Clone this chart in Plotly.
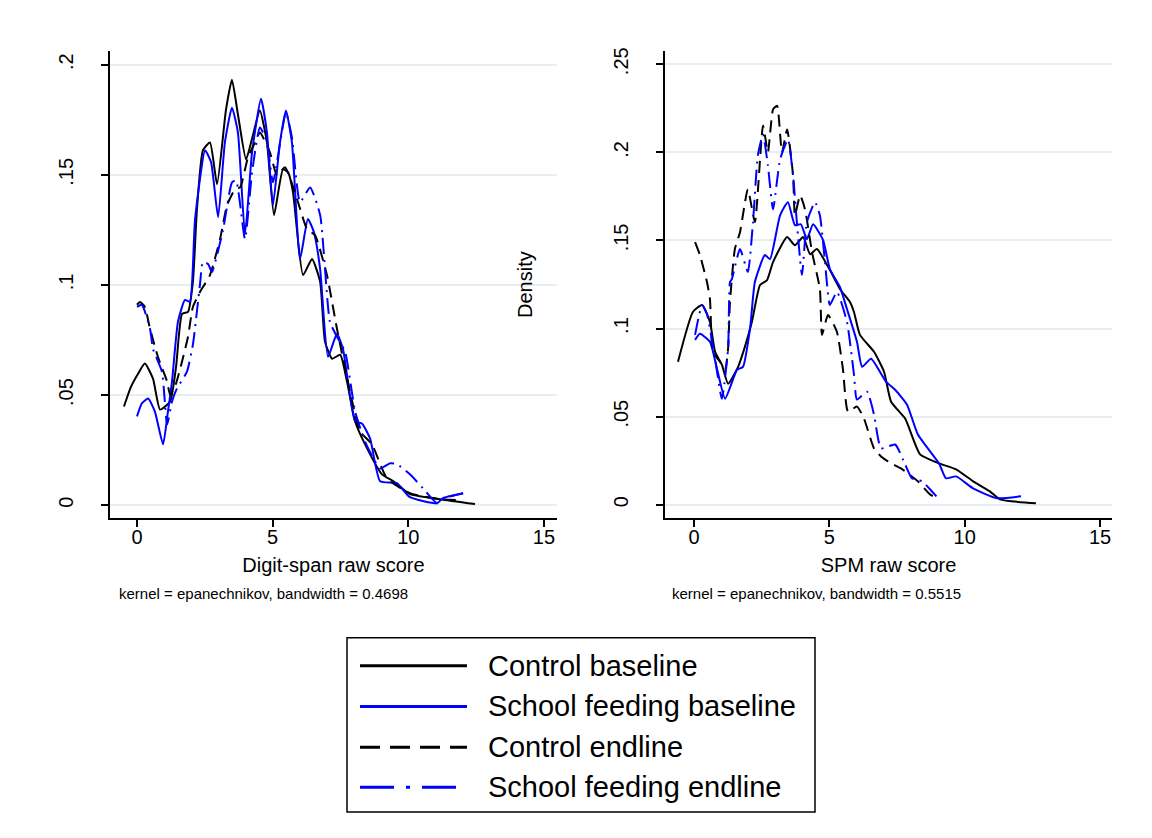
import plotly.graph_objects as go

# ---------------- data ----------------
# Left panel: Digit-span raw score densities
ds_cb_x = [-0.48, -0.22, 0.04, 0.29, 0.59, 0.85, 1.22, 1.44, 1.66, 1.88, 2.06, 2.21, 2.43, 2.69, 2.95, 3.28, 3.50, 3.72, 4.02, 4.27, 4.53, 4.79, 5.05, 5.38, 5.57, 5.75, 6.12, 6.45, 6.75, 6.93, 7.19, 7.49, 7.74, 8.04, 8.48, 9.03, 9.44, 10.06, 11.17, 12.46]
ds_cb_y = [0.0448, 0.0538, 0.0597, 0.0643, 0.0575, 0.0434, 0.0471, 0.0629, 0.0869, 0.0878, 0.1014, 0.1344, 0.1611, 0.1647, 0.1457, 0.1796, 0.1932, 0.1774, 0.1570, 0.1679, 0.1792, 0.1647, 0.1317, 0.1525, 0.1511, 0.1421, 0.1045, 0.1118, 0.1014, 0.0742, 0.0665, 0.0683, 0.0561, 0.0380, 0.0258, 0.0140, 0.0109, 0.0050, 0.0027, 0.0005]

ds_sb_x = [0.00, 0.18, 0.41, 0.66, 0.96, 1.14, 1.29, 1.51, 1.77, 1.95, 2.14, 2.51, 2.73, 2.99, 3.24, 3.50, 3.72, 3.98, 4.24, 4.57, 4.79, 5.01, 5.27, 5.49, 5.71, 6.01, 6.30, 6.52, 6.75, 7.04, 7.37, 7.59, 8.04, 8.29, 8.59, 8.96, 9.58, 10.06, 11.06, 11.28, 12.02]
ds_sb_y = [0.0403, 0.0462, 0.0484, 0.0425, 0.0276, 0.0425, 0.0561, 0.0833, 0.0932, 0.0923, 0.1299, 0.1611, 0.1557, 0.1308, 0.1647, 0.1805, 0.1692, 0.1231, 0.1602, 0.1846, 0.1692, 0.1362, 0.1647, 0.1792, 0.1647, 0.1118, 0.1299, 0.1240, 0.1072, 0.0674, 0.0778, 0.0710, 0.0380, 0.0371, 0.0303, 0.0109, 0.0100, 0.0036, 0.0009, 0.0032, 0.0054]

ds_ce_x = [0.00, 0.11, 0.29, 0.48, 0.77, 1.11, 1.22, 1.40, 1.66, 1.88, 2.06, 2.32, 2.69, 3.06, 3.32, 3.61, 3.80, 4.09, 4.35, 4.53, 4.90, 5.16, 5.46, 5.90, 6.27, 6.56, 7.00, 7.37, 7.85, 8.22, 8.66, 9.21, 10.06, 11.17, 11.91]
ds_ce_y = [0.0910, 0.0923, 0.0900, 0.0801, 0.0674, 0.0561, 0.0502, 0.0538, 0.0652, 0.0765, 0.0900, 0.0968, 0.1045, 0.1208, 0.1362, 0.1434, 0.1443, 0.1579, 0.1647, 0.1692, 0.1602, 0.1498, 0.1534, 0.1389, 0.1253, 0.1226, 0.1045, 0.0801, 0.0516, 0.0335, 0.0276, 0.0122, 0.0054, 0.0027, 0.0023]

ds_se_x = [0.00, 0.18, 0.48, 0.59, 0.92, 1.11, 1.29, 1.47, 1.84, 2.06, 2.32, 2.43, 2.62, 2.76, 3.17, 3.50, 3.65, 3.98, 4.24, 4.53, 4.79, 5.01, 5.49, 5.71, 6.01, 6.38, 6.75, 7.11, 7.37, 7.67, 8.04, 8.40, 8.96, 9.33, 9.58, 10.06, 10.54, 11.06, 11.35, 12.02]
ds_se_y = [0.0900, 0.0910, 0.0801, 0.0710, 0.0606, 0.0367, 0.0471, 0.0529, 0.0606, 0.0729, 0.1000, 0.1104, 0.1095, 0.1059, 0.1249, 0.1466, 0.1475, 0.1208, 0.1511, 0.1715, 0.1650, 0.1466, 0.1783, 0.1670, 0.1376, 0.1443, 0.1317, 0.0833, 0.0765, 0.0697, 0.0425, 0.0290, 0.0167, 0.0190, 0.0186, 0.0140, 0.0077, 0.0009, 0.0032, 0.0054]

# Right panel: SPM raw score densities
spm_cb_x = [-0.59, -0.04, 0.30, 0.59, 0.78, 1.03, 1.26, 1.63, 1.88, 2.14, 2.44, 2.70, 2.92, 3.44, 3.73, 4.03, 4.29, 4.54, 5.02, 5.39, 5.76, 5.91, 6.13, 6.65, 7.02, 7.28, 7.80, 8.35, 9.05, 9.68, 10.31, 10.93, 11.30, 12.63]
spm_cb_y = [0.0812, 0.1094, 0.1134, 0.1038, 0.0868, 0.0795, 0.0687, 0.0783, 0.0896, 0.1038, 0.1247, 0.1275, 0.1377, 0.1519, 0.1473, 0.1519, 0.1422, 0.1451, 0.1332, 0.1225, 0.1151, 0.1094, 0.0964, 0.0868, 0.0755, 0.0585, 0.0489, 0.0286, 0.0235, 0.0201, 0.0133, 0.0076, 0.0031, 0.0008]

spm_sb_x = [0.04, 0.22, 0.59, 0.85, 1.15, 1.59, 1.81, 2.07, 2.25, 2.62, 2.81, 3.18, 3.47, 3.73, 3.95, 4.17, 4.40, 4.77, 5.02, 5.39, 5.65, 6.02, 6.21, 6.54, 7.09, 7.43, 7.87, 8.27, 9.05, 9.31, 9.68, 10.31, 11.19, 12.08]
spm_sb_y = [0.0936, 0.0970, 0.0925, 0.0772, 0.0602, 0.0766, 0.0783, 0.0998, 0.1264, 0.1417, 0.1394, 0.1643, 0.1717, 0.1587, 0.1592, 0.1507, 0.1592, 0.1502, 0.1338, 0.1236, 0.1111, 0.0925, 0.0783, 0.0829, 0.0699, 0.0653, 0.0568, 0.0399, 0.0235, 0.0150, 0.0161, 0.0093, 0.0037, 0.0048]

spm_ce_x = [0.04, 0.22, 0.48, 0.59, 0.70, 0.96, 1.15, 1.26, 1.33, 1.51, 1.70, 1.99, 2.25, 2.55, 2.73, 2.92, 3.07, 3.25, 3.44, 3.66, 3.73, 3.92, 4.10, 4.36, 4.65, 4.73, 4.95, 5.28, 5.50, 5.69, 6.02, 6.28, 6.65, 6.91, 7.28, 7.65, 8.27, 8.72, 9.05]
spm_ce_y = [0.1490, 0.1417, 0.1264, 0.1168, 0.0868, 0.0812, 0.0766, 0.0885, 0.1151, 0.1451, 0.1547, 0.1790, 0.1604, 0.2152, 0.2000, 0.2243, 0.2265, 0.2000, 0.2130, 0.1869, 0.1643, 0.1756, 0.1677, 0.1434, 0.1225, 0.0964, 0.1077, 0.0981, 0.0772, 0.0529, 0.0557, 0.0489, 0.0320, 0.0274, 0.0235, 0.0206, 0.0133, 0.0059, 0.0031]

spm_se_x = [0.04, 0.30, 0.48, 0.74, 1.03, 1.26, 1.33, 1.40, 1.70, 1.99, 2.18, 2.36, 2.55, 2.73, 2.92, 3.18, 3.47, 3.66, 3.80, 3.99, 4.17, 4.47, 4.65, 4.84, 5.02, 5.28, 5.65, 5.91, 6.02, 6.39, 6.65, 6.91, 7.43, 7.80, 8.05, 8.42, 8.72, 9.05]
spm_se_y = [0.0964, 0.1134, 0.1083, 0.0868, 0.0602, 0.0885, 0.1264, 0.1281, 0.1451, 0.1321, 0.1604, 0.1983, 0.2101, 0.1926, 0.1677, 0.1960, 0.2073, 0.1869, 0.1604, 0.1304, 0.1604, 0.1717, 0.1643, 0.1377, 0.1134, 0.1208, 0.1038, 0.0738, 0.0597, 0.0642, 0.0512, 0.0320, 0.0342, 0.0229, 0.0150, 0.0133, 0.0088, 0.0031]

series_names = ["Control baseline", "School feeding baseline", "Control endline", "School feeding endline"]
x_ticks = [0, 5, 10, 15]
y_ticks_left = [0, 0.05, 0.1, 0.15, 0.2]
y_text_left = ["0", ".05", ".1", ".15", ".2"]
y_ticks_right = [0, 0.05, 0.1, 0.15, 0.2, 0.25]
y_text_right = ["0", ".05", ".1", ".15", ".2", ".25"]
x_title_left = "Digit-span raw score"
x_title_right = "SPM raw score"
note_left = "kernel = epanechnikov, bandwidth = 0.4698"
note_right = "kernel = epanechnikov, bandwidth = 0.5515"
y_title = "Density"

# ---------------- styles / geometry ----------------
# The page body adds an 8px offset; the figure is sized so that screen
# coordinates of the reference map onto it.
OFF = 8
W, H = 1152 - OFF, 838 - OFF
FONT = "Liberation Sans, Arial, Helvetica, sans-serif"
BLUE = "#0000ff"
styles = [
    dict(color="black", dash="solid"),
    dict(color=BLUE, dash="solid"),
    dict(color="black", dash="12px,7px"),
    dict(color=BLUE, dash="16px,6px,2px,6px"),
]
legend_dash = ["solid", "solid", "20px,10px", "34px,12px,4px,12px"]

left_data = [(ds_cb_x, ds_cb_y), (ds_sb_x, ds_sb_y), (ds_ce_x, ds_ce_y), (ds_se_x, ds_se_y)]
right_data = [(spm_cb_x, spm_cb_y), (spm_sb_x, spm_sb_y), (spm_ce_x, spm_ce_y), (spm_se_x, spm_se_y)]

fig = go.Figure()
for (xs, ys), st, nm in zip(left_data, styles, series_names):
    fig.add_trace(go.Scatter(x=xs, y=ys, mode="lines", name=nm, showlegend=False,
                             line=dict(color=st["color"], dash=st["dash"], width=2,
                                       shape="spline", smoothing=0.5),
                             xaxis="x", yaxis="y"))
for (xs, ys), st, nm in zip(right_data, styles, series_names):
    fig.add_trace(go.Scatter(x=xs, y=ys, mode="lines", name=nm, showlegend=False,
                             line=dict(color=st["color"], dash=st["dash"], width=2,
                                       shape="spline", smoothing=0.5),
                             xaxis="x2", yaxis="y2"))

def px(x):
    return (x - OFF) / W

def py(y):
    return 1 - (y - OFF) / H

GRID = "#e6eef2"
common_x = dict(showline=True, linecolor="black", linewidth=1.5, ticks="outside", ticklen=7,
                tickcolor="black", tickwidth=1.5, showgrid=False, zeroline=False,
                ticklabelstandoff=-7,
                tickvals=x_ticks, tickfont=dict(size=20, color="black", family=FONT))
common_y = dict(showline=True, linecolor="black", linewidth=1.5, ticks="outside", ticklen=7,
                tickcolor="black", tickwidth=1.5, showgrid=True, gridcolor=GRID, gridwidth=1.5,
                zeroline=False, tickangle=-90, ticklabelstandoff=20,
                tickfont=dict(size=20, color="black", family=FONT))

y_dom = [py(517), py(48)]
fig.update_layout(
    width=W, height=H, autosize=False,
    margin=dict(l=0, r=0, t=0, b=0),
    paper_bgcolor="white", plot_bgcolor="white",
    font=dict(family=FONT, color="black"),
    xaxis=dict(domain=[px(110), px(557)], range=[-0.995, 15.48], anchor="y",
               title=dict(text=x_title_left, font=dict(size=20), standoff=11), **common_x),
    yaxis=dict(domain=y_dom, range=[-0.0059, 0.2063], anchor="x",
               tickvals=y_ticks_left, ticktext=y_text_left, **common_y),
    xaxis2=dict(domain=[px(665), px(1112)], range=[-1.07, 15.44], anchor="y2",
                title=dict(text=x_title_right, font=dict(size=20), standoff=11), **common_x),
    yaxis2=dict(domain=y_dom, range=[-0.0076, 0.2576], anchor="x2",
                tickvals=y_ticks_right, ticktext=y_text_right, **common_y),
)

annotations = [
    dict(text=note_left, x=px(117), y=py(593), xref="paper", yref="paper", xanchor="left",
         yanchor="middle", showarrow=False, font=dict(size=15, color="black", family=FONT)),
    dict(text=note_right, x=px(670), y=py(593), xref="paper", yref="paper", xanchor="left",
         yanchor="middle", showarrow=False, font=dict(size=15, color="black", family=FONT)),
    dict(text=y_title, x=px(525), y=py(283), xref="paper", yref="paper", xanchor="center",
         yanchor="middle", textangle=-90, showarrow=False,
         font=dict(size=20, color="black", family=FONT)),
]

shapes = [
    # legend box
    dict(type="rect", xref="paper", yref="paper", x0=px(347), y0=py(637), x1=px(815), y1=py(812),
         line=dict(color="black", width=1.5), fillcolor="white"),
]

row_y = [665, 706, 747, 787]
for st, ld, nm, ry in zip(styles, legend_dash, series_names, row_y):
    shapes.append(dict(type="line", xref="paper", yref="paper", x0=px(360), x1=px(467),
                       y0=py(ry), y1=py(ry), line=dict(color=st["color"], width=3, dash=ld)))
    annotations.append(dict(text=nm, x=px(486), y=py(ry), xref="paper", yref="paper",
                            xanchor="left", yanchor="middle", showarrow=False,
                            font=dict(size=29, color="black", family=FONT)))

fig.update_layout(annotations=annotations, shapes=shapes)
fig.write_html("out.html")
